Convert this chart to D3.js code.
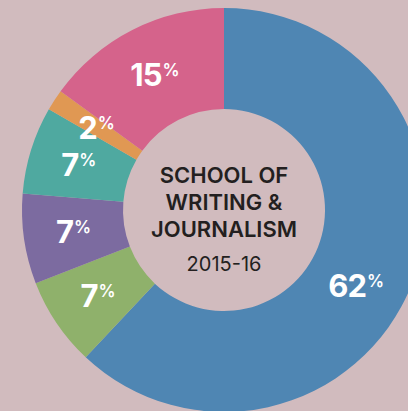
<!DOCTYPE html>
<html>
<head>
<meta charset="utf-8">
<script src="https://cdn.jsdelivr.net/npm/d3@7"></script>
<style>
  html, body { margin: 0; padding: 0; background: #d1bbbe; }
  svg { display: block; }
</style>
</head>
<body>
<div id="chart"></div>
<script>
// slices, clockwise from 12 o'clock
const categories = ['blue', 'green', 'purple', 'teal', 'orange', 'pink'];
const shares = [62, 7.1, 7.2, 7.0, 1.7, 15];
const labels = ['62', '7', '7', '7', '2', '15'];
const titleLines = ['SCHOOL OF', 'WRITING &', 'JOURNALISM'];
const yearLabel = '2015-16';

const width = 408;
const height = 411;
const cx = 224;
const cy = 210;
const outerR = 202;
const innerR = 101;
const labelR = 152;

const color = d3.scaleOrdinal()
    .domain(categories)
    .range(['#4f86b3', '#8fb16b', '#7c6ba0', '#4fa9a0', '#e09853', '#d5638b']);

const dataset = categories.map(function(c, i) {
  return {cat: c, share: shares[i], label: labels[i]};
});

const svg = d3.select('#chart')
    .append('svg')
    .attr('width', width)
    .attr('height', height);

svg.append('rect')
    .attr('width', width)
    .attr('height', height)
    .attr('fill', '#d1bbbe');

const g = svg.append('g')
    .attr('transform', 'translate(' + cx + ',' + cy + ')');

const pie = d3.pie()
    .value(function(d) {
      return d.share;
    })
    .sort(null);

const arc = d3.arc()
    .innerRadius(innerR)
    .outerRadius(outerR);

const arcs = pie(dataset);

g.selectAll('path')
    .data(arcs)
    .enter()
    .append('path')
    .attr('d', arc)
    .attr('fill', function(d) {
      return color(d.data.cat);
    });

// the big slice label sits a little further round than its mid angle
const nudge = {blue: 0.14};

const lab = g.selectAll('.lab')
    .data(arcs)
    .enter()
    .append('text')
    .attr('class', 'lab')
    .attr('transform', function(d) {
      const a = (d.startAngle + d.endAngle) / 2 + (nudge[d.data.cat] || 0);
      const x = Math.sin(a) * labelR;
      const y = -Math.cos(a) * labelR;
      return 'translate(' + x + ',' + (y + 11.5) + ')';
    })
    .attr('text-anchor', 'middle')
    .attr('fill', '#ffffff')
    .style('font-family', 'Inter, "Open Sans", sans-serif')
    .style('font-weight', 700);

lab.append('tspan')
    .style('font-size', '31px')
    .style('letter-spacing', '-1px')
    .text(function(d) {
      return d.data.label;
    });

lab.append('tspan')
    .attr('dy', -10)
    .attr('dx', 1)
    .style('font-size', '17px')
    .style('font-weight', 600)
    .text('%');

const center = g.append('g')
    .attr('text-anchor', 'middle')
    .attr('fill', '#231f20')
    .style('font-family', 'Inter, "Open Sans", sans-serif');

center.selectAll('.title')
    .data(titleLines)
    .enter()
    .append('text')
    .attr('class', 'title')
    .attr('y', function(d, i) {
      return -27.3 + i * 27;
    })
    .style('font-size', '22px')
    .style('font-weight', 600)
    .text(function(d) {
      return d;
    });

center.append('text')
    .attr('y', 60.5)
    .style('font-size', '20px')
    .style('font-weight', 400)
    .text(yearLabel);
</script>
</body>
</html>
